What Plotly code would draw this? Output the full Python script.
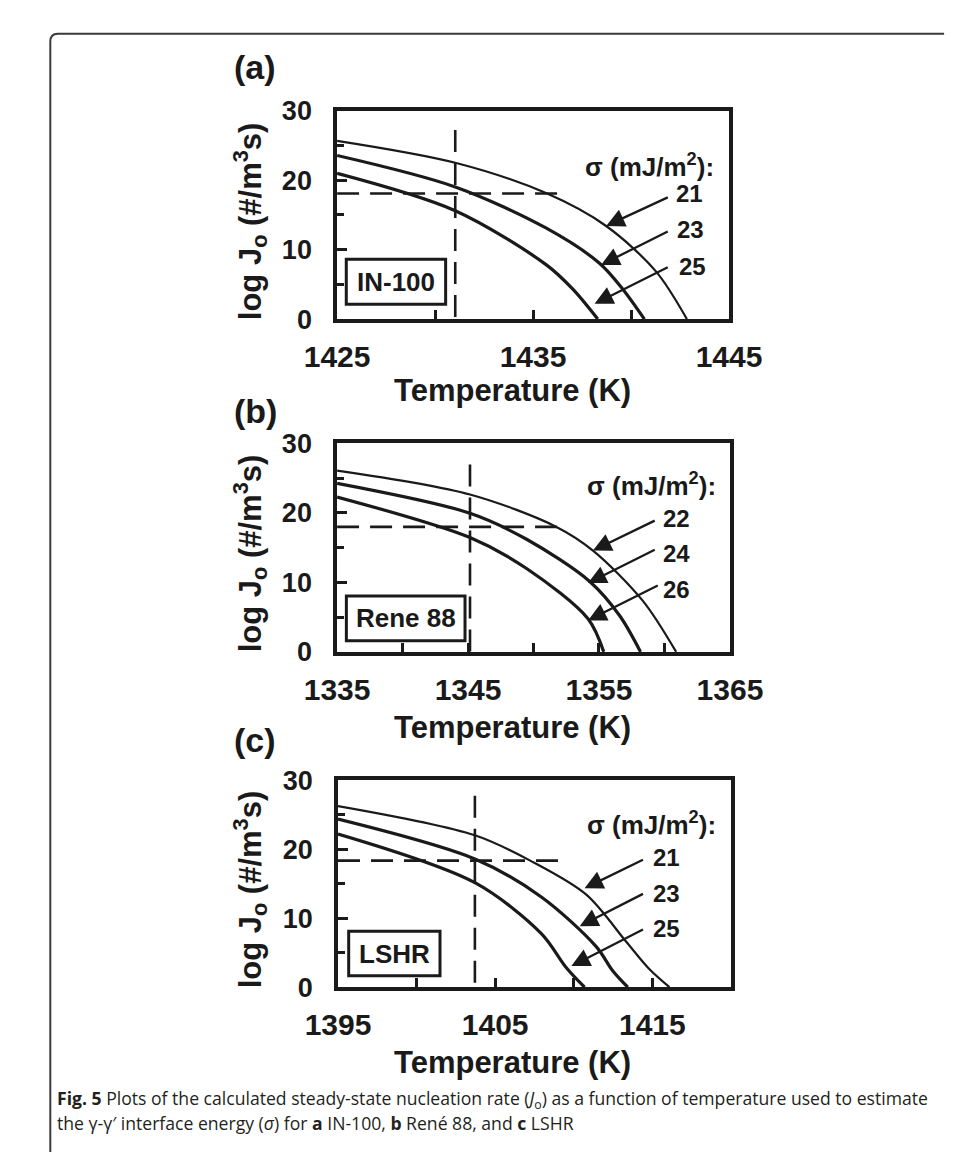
import plotly.graph_objects as go

W, H = 957, 1152

# ---------------- data ----------------
# Panel (a) IN-100, sigma = 21, 23, 25 mJ/m^2
a_T21 = [1425, 1431.03, 1435.69, 1438.73, 1441.27, 1442.85]
a_v21 = [25.66, 22.5, 18.1, 13.4, 6.87, 0]
a_T23 = [1425, 1431.03, 1435.68, 1438.39, 1439.58, 1440.68]
a_v23 = [23.55, 19.02, 13.08, 8.04, 4.3, 0]
a_T25 = [1425, 1431.03, 1435.68, 1437.03, 1438.3]
a_v25 = [20.98, 15.6, 7.8, 4.3, 0]
a_dash_T = 1431.03
a_dash_top = 27.2
a_dash_v = 18.08
a_dash_end = 1436.36

# Panel (b) Rene 88, sigma = 22, 24, 26
b_T22 = [1335, 1345.15, 1351.75, 1354.54, 1358.35, 1360.89]
b_v22 = [26.1, 22.66, 17.99, 14.58, 7.34, 0]
b_T24 = [1335, 1345.15, 1349.47, 1354.29, 1356.57, 1358.17]
b_v24 = [24.25, 19.95, 16.21, 10.14, 5.23, 0]
b_T26 = [1335, 1345.15, 1349.47, 1354.16, 1355.36]
b_v26 = [22.29, 16.45, 12.0, 4.77, 0]
b_dash_T = 1345.15
b_dash_top = 26.96
b_dash_v = 17.99
b_dash_end = 1352.08

# Panel (c) LSHR, sigma = 21, 23, 25
c_T21 = [1395, 1403.71, 1407.42, 1410.8, 1413.34, 1414.82, 1416.09]
c_v21 = [26.23, 22.0, 18.1, 13.4, 6.58, 2.59, 0]
c_T23 = [1395, 1403.71, 1407.94, 1411.43, 1412.49, 1413.44]
c_v23 = [24.35, 18.57, 13.07, 5.88, 2.35, 0]
c_T25 = [1395, 1403.71, 1407.94, 1409.53, 1410.69]
c_v25 = [22.19, 15.14, 7.76, 2.82, 0]
c_dash_T = 1403.71
c_dash_top = 27.74
c_dash_v = 18.34
c_dash_end = 1409.32

a_sigmas = ["21", "23", "25"]
b_sigmas = ["22", "24", "26"]
c_sigmas = ["21", "23", "25"]
alloys = ["IN-100", "Rene 88", "LSHR"]
panel_tags = ["(a)", "(b)", "(c)"]
x_ranges = [[1425, 1445], [1335, 1365], [1395, 1420]]
y_range = [0, 30]

# arrow tail (label side) and head positions (data units)
a_arrow_tail = [(1441.95, 17.62), (1441.95, 12.71), (1441.95, 7.57)]
a_arrow_head = [(1438.73, 13.41), (1438.47, 7.8), (1438.14, 2.2)]
a_label_pos = [(1443.0, 18.08), (1443.05, 12.94), (1443.14, 7.57)]
b_arrow_tail = [(1359.37, 19.0), (1359.37, 14.8), (1359.6, 9.67)]
b_arrow_head = [(1354.54, 14.58), (1354.16, 9.9), (1354.16, 4.53)]
b_label_pos = [(1360.9, 19.25), (1360.9, 14.11), (1360.9, 8.97)]
c_arrow_tail = [(1414.5, 18.57), (1414.5, 13.63), (1414.5, 8.46)]
c_arrow_head = [(1410.69, 14.34), (1410.38, 8.84), (1409.85, 3.06)]
c_label_pos = [(1415.92, 18.8), (1415.92, 13.63), (1415.92, 8.46)]

# alloy label boxes [T0, T1, v0, v1]
a_box = [1425.47, 1430.54, 2.15, 8.6]
b_box = [1335.71, 1344.77, 1.59, 8.04]
c_box = [1395.68, 1401.49, 1.65, 8.09]

sigma_pos = [(1444.32, 22.06), (1364.06, 24.16), (1419.15, 23.74)]

# ---------------- layout helpers ----------------
def px(x):
    return x / W

def py(y):
    return 1 - y / H

FONT = "Liberation Sans, Arial, Helvetica, sans-serif"
BLACK = "#1a1a1a"

domains_x = [[px(318), px(739)], [px(318), px(740)], [px(319), px(741)]]
domains_y = [[py(304), py(90)], [py(645.7), py(431.7)], [py(990), py(777.3)]]

fig = go.Figure()

curves = [
    [(a_T21, a_v21, 2.2), (a_T23, a_v23, 3.2), (a_T25, a_v25, 3.2)],
    [(b_T22, b_v22, 2.2), (b_T24, b_v24, 3.2), (b_T26, b_v26, 3.2)],
    [(c_T21, c_v21, 2.2), (c_T23, c_v23, 3.2), (c_T25, c_v25, 3.2)],
]
dashes = [
    (a_dash_T, a_dash_top, a_dash_v, a_dash_end),
    (b_dash_T, b_dash_top, b_dash_v, b_dash_end),
    (c_dash_T, c_dash_top, c_dash_v, c_dash_end),
]
sig_lists = [a_sigmas, b_sigmas, c_sigmas]
tails = [a_arrow_tail, b_arrow_tail, c_arrow_tail]
heads = [a_arrow_head, b_arrow_head, c_arrow_head]
labpos = [a_label_pos, b_label_pos, c_label_pos]
boxes = [a_box, b_box, c_box]

annotations = []
shapes = []

for i in range(3):
    xa = "x" if i == 0 else f"x{i+1}"
    ya = "y" if i == 0 else f"y{i+1}"
    xr = x_ranges[i]
    for (T, v, w) in curves[i]:
        fig.add_trace(go.Scatter(x=T, y=v, mode="lines", xaxis=xa, yaxis=ya,
                                 line=dict(color=BLACK, width=w, shape="spline", smoothing=0.9),
                                 showlegend=False, hoverinfo="skip"))
    dT, dtop, dv, dend = dashes[i]
    fig.add_trace(go.Scatter(x=[dT, dT], y=[dtop, y_range[0]], mode="lines", xaxis=xa, yaxis=ya,
                             line=dict(color=BLACK, width=2.6, dash="22px,11px"),
                             showlegend=False, hoverinfo="skip"))
    fig.add_trace(go.Scatter(x=[xr[0], dend], y=[dv, dv], mode="lines", xaxis=xa, yaxis=ya,
                             line=dict(color=BLACK, width=2.6, dash="22px,11px"),
                             showlegend=False, hoverinfo="skip"))

    axkey = "xaxis" if i == 0 else f"xaxis{i+1}"
    aykey = "yaxis" if i == 0 else f"yaxis{i+1}"
    fig.update_layout(**{
        axkey: dict(domain=domains_x[i], range=xr, anchor=ya, tick0=xr[0], dtick=10,
                    ticks="inside", ticklen=9, tickwidth=3, tickcolor=BLACK,
                    minor=dict(tick0=xr[0], dtick=5, ticks="inside", ticklen=9, tickwidth=3, tickcolor=BLACK),
                    showline=True, linewidth=3.5, linecolor=BLACK, mirror=True,
                    showgrid=False, zeroline=False, ticklabelstandoff=8,
                    tickfont=dict(family=FONT, size=30, color=BLACK, weight="bold")),
        aykey: dict(domain=domains_y[i], range=y_range, anchor=xa, tick0=0, dtick=10,
                    ticks="inside", ticklen=10, tickwidth=3, tickcolor=BLACK,
                    minor=dict(dtick=5, ticks="inside", ticklen=7, tickwidth=3, tickcolor=BLACK),
                    showline=True, linewidth=3.5, linecolor=BLACK, mirror=True,
                    showgrid=False, zeroline=False, ticklabelstandoff=16,
                    tickfont=dict(family=FONT, size=27, color=BLACK, weight="bold")),
    })

    # sigma label
    sx, sy = sigma_pos[i]
    annotations.append(dict(x=sx, y=sy, xref=xa, yref=ya, xanchor="right", yanchor="middle",
                            text="σ (mJ/m<sup>2</sup>):", showarrow=False,
                            font=dict(family=FONT, size=26, color=BLACK, weight="bold")))
    # sigma values and arrows
    for k in range(3):
        lx, ly = labpos[i][k]
        annotations.append(dict(x=lx, y=ly, xref=xa, yref=ya, xanchor="center", yanchor="middle",
                                text=sig_lists[i][k], showarrow=False,
                                font=dict(family=FONT, size=24, color=BLACK, weight="bold")))
        hx, hy = heads[i][k]
        tx, ty = tails[i][k]
        annotations.append(dict(x=hx, y=hy, xref=xa, yref=ya, ax=tx, ay=ty, axref=xa, ayref=ya,
                                text="", showarrow=True, arrowhead=2, arrowsize=1.6,
                                arrowwidth=2.3, arrowcolor=BLACK, standoff=0, startstandoff=0))
    # alloy box
    bx0, bx1, by0, by1 = boxes[i]
    shapes.append(dict(type="rect", xref=xa, yref=ya, x0=bx0, x1=bx1, y0=by0, y1=by1,
                       line=dict(color=BLACK, width=3), fillcolor="white", layer="above"))
    annotations.append(dict(x=(bx0 + bx1) / 2, y=(by0 + by1) / 2, xref=xa, yref=ya,
                            text=alloys[i], showarrow=False, xanchor="center", yanchor="middle",
                            font=dict(family=FONT, size=26, color=BLACK, weight="bold")))

# panel tags
tag_y = [45, 398.5, 736]
for i in range(3):
    annotations.append(dict(x=px(205), y=py(tag_y[i]), xref="paper", yref="paper", xanchor="left",
                            yanchor="middle", text=panel_tags[i], showarrow=False,
                            font=dict(family=FONT, size=34, color=BLACK, weight="bold")))

# axis titles
xtitle_y = [377, 723, 1067]
ytitle_y = [203, 544, 889]
for i in range(3):
    annotations.append(dict(x=px(506), y=py(xtitle_y[i]), xref="paper", yref="paper",
                            xanchor="center", yanchor="middle", text="Temperature (K)", showarrow=False,
                            font=dict(family=FONT, size=31, color=BLACK, weight="bold")))
    annotations.append(dict(x=px(225), y=py(ytitle_y[i]), xref="paper", yref="paper",
                            xanchor="center", yanchor="middle", textangle=-90,
                            text="log J<sub>o</sub> (#/m<sup>3</sup>s)", showarrow=False,
                            font=dict(family=FONT, size=31, color=BLACK, weight="bold")))

# caption
CAP = "Open Sans, Noto Sans, sans-serif"
annotations.append(dict(x=px(15), y=py(1105), xref="paper", yref="paper", xanchor="left", yanchor="middle",
                        text="<b>Fig. 5</b> Plots of the calculated steady-state nucleation rate (<i>J</i><sub>o</sub>) as a function of temperature used to estimate",
                        showarrow=False, font=dict(family=CAP, size=17.6, color="#231f20")))
annotations.append(dict(x=px(15), y=py(1129), xref="paper", yref="paper", xanchor="left", yanchor="middle",
                        text="the γ-γ′ interface energy (<i>σ</i>) for <b>a</b> IN-100, <b>b</b> René 88, and <b>c</b> LSHR",
                        showarrow=False, font=dict(family=CAP, size=17.6, color="#231f20")))

# outer frame with rounded top-left corner
shapes.append(dict(type="path", xref="paper", yref="paper",
                   path=f"M {px(10)},{py(1160)} L {px(10)},{py(19)} Q {px(10)},{py(11)} {px(18)},{py(11)} L {px(970)},{py(11)}",
                   line=dict(color="#3a3a3a", width=2)))

fig.update_layout(width=W, height=H, margin=dict(l=0, r=0, t=0, b=0),
                  paper_bgcolor="white", plot_bgcolor="white",
                  annotations=annotations, shapes=shapes, showlegend=False)

fig.write_html("out.html")
